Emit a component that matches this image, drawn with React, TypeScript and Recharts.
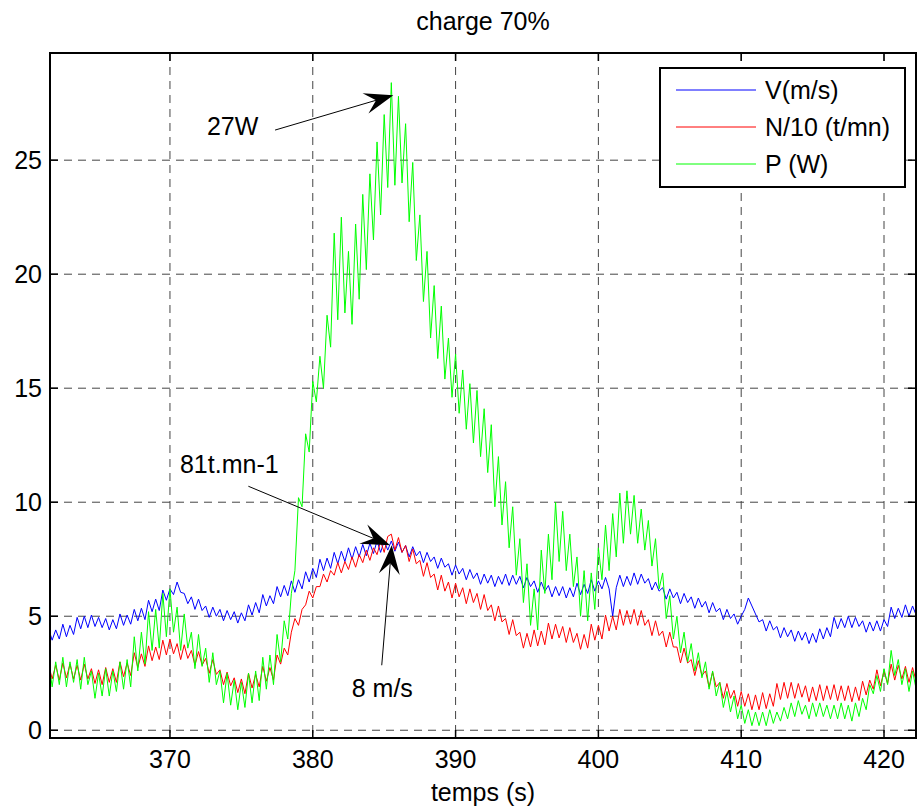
import {
  LineChart,
  Line,
  XAxis,
  YAxis,
  CartesianGrid,
  Legend,
  ReferenceLine,
  ReferenceDot,
} from "recharts";

// samples every 0.25 s, starting at 361.5 s
const T_START = 361.5;
const T_STEP = 0.25;

// V (m/s) — one row per second
const V_MS = [
  4.45, 3.95, 4.4, 4.0,
  4.65, 4.1, 4.6, 4.2,
  4.95, 4.45, 5.0, 4.5,
  5.05, 4.55, 4.95, 4.5,
  4.9, 4.4, 4.85, 4.45,
  5.1, 4.6, 5.05, 4.65,
  5.3, 4.8, 5.35, 4.85,
  5.7, 5.2, 5.75, 5.25,
  6.15, 5.7, 6.2, 5.95,
  6.5, 6.05, 6.0, 5.55,
  5.85, 5.3, 5.75, 5.25,
  5.45, 4.95, 5.4, 5.0,
  5.3, 4.8, 5.25, 4.85,
  5.2, 4.7, 5.15, 4.8,
  5.5, 5.05, 5.6, 5.15,
  5.95, 5.45, 5.9, 5.55,
  6.3, 5.85, 6.35, 5.9,
  6.55, 6.05, 6.6, 6.2,
  6.95, 6.5, 7.1, 6.7,
  7.5, 7.0, 7.55, 7.1,
  7.8, 7.3, 7.85, 7.4,
  8.0, 7.5, 8.05, 7.6,
  8.15, 7.65, 8.2, 7.75,
  8.3, 7.8, 8.3, 7.9,
  8.3, 7.85, 8.25, 7.8,
  8.1, 7.6, 8.05, 7.65,
  7.85, 7.35, 7.8, 7.4,
  7.6, 7.1, 7.55, 7.15,
  7.3, 6.8, 7.25, 6.85,
  7.1, 6.6, 7.05, 6.65,
  6.9, 6.4, 6.85, 6.45,
  6.8, 6.3, 6.75, 6.4,
  6.85, 6.35, 6.8, 6.4,
  6.75, 6.25, 6.7, 6.3,
  6.55, 6.05, 6.5, 6.1,
  6.35, 5.85, 6.3, 5.9,
  6.3, 5.8, 6.25, 5.85,
  6.45, 5.95, 6.4, 6.0,
  6.6, 6.1, 6.55, 6.2,
  6.7, 6.2, 5.0, 6.25,
  6.8, 6.3, 6.75, 6.35,
  6.9, 6.4, 6.85, 6.45,
  6.65, 6.15, 6.5, 6.1,
  6.25, 5.75, 6.2, 5.8,
  6.05, 5.55, 6.0, 5.6,
  5.85, 5.35, 5.8, 5.4,
  5.65, 5.15, 5.6, 5.2,
  5.35, 4.85, 5.3, 4.9,
  5.1, 4.65, 5.0, 5.3,
  5.8, 5.45, 5.1, 4.75,
  4.85, 4.35, 4.8, 4.4,
  4.55, 4.05, 4.5, 4.1,
  4.4, 3.9, 4.35, 3.95,
  4.3, 3.8, 4.25, 3.85,
  4.45, 4.0, 4.5, 4.1,
  4.95, 4.45, 4.9, 4.5,
  5.0, 4.5, 4.95, 4.55,
  4.8, 4.3, 4.75, 4.35,
  4.8, 4.35, 4.85, 4.55,
  5.4, 4.9, 5.35, 4.95,
  5.5, 5.0, 5.45, 5.05,
];

// N/10 (t/mn)
const N_DIV10 = [
  2.9, 2.25, 2.85, 2.2,
  2.95, 2.3, 2.9, 2.25,
  2.85, 2.2, 2.9, 2.25,
  2.7, 2.05, 2.65, 2.0,
  2.75, 2.1, 2.7, 2.1,
  3.0, 2.35, 2.95, 2.4,
  3.4, 2.75, 3.35, 2.8,
  3.7, 3.05, 3.65, 3.1,
  3.95, 3.3, 4.0, 3.35,
  3.8, 3.1, 3.75, 3.15,
  3.5, 2.85, 3.45, 2.85,
  3.15, 2.5, 3.1, 2.45,
  2.65, 2.0, 2.55, 1.95,
  2.3, 1.65, 2.25, 1.6,
  2.5, 1.85, 2.45, 1.9,
  2.8, 2.15, 2.75, 2.2,
  3.3, 2.9, 3.6, 3.3,
  4.3, 4.9, 4.6, 5.3,
  5.5, 6.1, 5.8, 6.3,
  6.3, 6.85, 6.5, 7.0,
  6.8, 7.35, 6.9, 7.4,
  7.05, 7.6, 7.15, 7.7,
  7.35, 7.9, 7.45, 8.0,
  7.7, 8.3, 7.8, 8.5,
  8.6, 7.9, 8.45, 7.8,
  8.1, 7.4, 7.95, 7.3,
  7.45, 6.75, 7.35, 6.7,
  6.85, 6.15, 6.8, 6.1,
  6.5, 5.8, 6.45, 5.85,
  6.25, 5.55, 6.2, 5.6,
  6.0, 5.3, 5.95, 5.25,
  5.5, 4.8, 5.45, 4.75,
  4.9, 4.2, 4.85, 4.15,
  4.3, 3.6, 4.25, 3.65,
  4.4, 3.7, 4.35, 3.75,
  4.7, 4.0, 4.65, 4.05,
  4.55, 3.85, 4.5, 3.85,
  4.25, 3.55, 4.2, 3.6,
  4.65, 3.95, 4.6, 4.0,
  5.05, 4.35, 5.0, 4.4,
  5.3, 4.6, 5.25, 4.65,
  5.3, 4.6, 5.25, 4.6,
  4.85, 4.15, 4.8, 4.15,
  4.35, 3.65, 4.3, 3.65,
  3.65, 2.95, 3.6, 2.95,
  3.1, 2.4, 3.05, 2.4,
  2.6, 1.9, 2.55, 1.9,
  2.1, 1.4, 2.05, 1.4,
  1.75, 1.05, 1.7, 1.05,
  1.6, 0.9, 1.55, 0.9,
  1.65, 0.95, 1.6, 1.05,
  2.05, 1.35, 2.1, 1.4,
  2.1, 1.4, 2.05, 1.45,
  1.95, 1.25, 1.9, 1.3,
  2.0, 1.3, 1.95, 1.35,
  2.0, 1.3, 1.95, 1.3,
  1.95, 1.25, 1.9, 1.3,
  2.15, 1.55, 2.2, 1.8,
  2.65, 1.95, 2.6, 2.05,
  2.9, 2.2, 2.85, 2.25,
  2.8, 2.1, 2.75, 2.15,
];

// P (W)
const P_W = [
  3.1, 1.9, 3.0, 2.0,
  3.2, 1.9, 3.0, 2.1,
  3.1, 1.8, 3.2, 2.0,
  2.6, 1.4, 2.5, 1.5,
  2.7, 1.5, 2.6, 1.7,
  3.0, 1.8, 3.1, 1.9,
  4.1, 2.6, 4.3, 2.9,
  5.2, 3.5, 5.3, 3.6,
  6.0, 4.1, 6.2, 4.3,
  5.4, 3.5, 5.1, 3.6,
  4.3, 2.7, 4.2, 2.8,
  3.6, 2.1, 3.4, 2.0,
  2.6, 1.2, 2.5, 1.1,
  2.2, 0.9, 2.1, 1.0,
  2.5, 1.2, 2.6, 1.3,
  3.2, 1.8, 3.3, 2.0,
  4.2, 3.0, 4.8, 4.0,
  6.0, 7.0, 10.2, 9.8,
  13.0, 12.2, 15.3, 14.4,
  16.4, 15.0, 18.2, 16.8,
  21.8, 18.0, 22.5, 18.3,
  21.0, 17.8, 22.2, 18.9,
  23.5, 20.2, 24.4, 21.5,
  25.8, 22.6, 27.0, 23.8,
  28.4, 23.9, 27.8, 24.0,
  26.6, 22.3, 24.9, 20.6,
  22.6, 18.8, 21.0, 17.2,
  19.5, 16.3, 18.6, 15.4,
  17.2, 14.6, 16.5, 13.9,
  15.8, 13.2, 15.2, 12.6,
  14.9, 12.0, 14.1, 11.3,
  13.4, 9.8, 12.0, 9.0,
  10.9, 8.0, 9.8, 6.8,
  8.4, 5.6, 7.3, 4.6,
  6.2, 4.4, 7.9, 6.0,
  8.6, 6.6, 10.0, 7.4,
  9.6, 7.0, 8.6, 6.3,
  7.6, 5.0, 7.0, 4.8,
  6.9, 5.3, 8.0, 6.6,
  9.0, 7.0, 9.5, 7.6,
  10.4, 8.2, 10.5, 8.6,
  10.3, 8.2, 9.7, 7.9,
  9.2, 7.2, 8.4, 6.2,
  6.9, 4.9, 5.9, 4.0,
  5.0, 3.4, 4.3, 3.0,
  3.8, 2.6, 3.4, 2.3,
  3.0, 1.8, 2.6, 1.5,
  2.1, 1.0, 1.7, 0.8,
  1.5, 0.5, 1.1, 0.3,
  0.9, 0.2, 0.8, 0.2,
  0.8, 0.2, 0.9, 0.3,
  0.8, 0.4, 1.0, 0.5,
  1.2, 0.6, 1.3, 0.7,
  1.1, 0.5, 1.2, 0.6,
  1.2, 0.6, 1.1, 0.5,
  1.1, 0.5, 1.2, 0.5,
  1.1, 0.4, 1.2, 0.6,
  1.4, 0.9, 2.0, 1.6,
  2.4, 1.7, 2.7, 2.0,
  3.5, 2.4, 3.1, 2.0,
  2.7, 1.7, 2.6, 1.8,
];

const SERIES_NAMES = ["V(m/s)", "N/10 (t/mn)", "P (W)"];
const X_TICKS = [370, 380, 390, 400, 410, 420];
const Y_TICKS = [0, 5, 10, 15, 20, 25];
const X_DOMAIN = [361.6, 422.24];
const Y_DOMAIN = [-0.34, 29.7];

// arrows: [tail, head] in data units
const ARROWS = [
  [{ x: 377.36, y: 26.32 }, { x: 385.64, y: 27.85 }],
  [{ x: 375.49, y: 10.7 }, { x: 385.41, y: 8.11 }],
  [{ x: 384.83, y: 2.85 }, { x: 385.53, y: 8.11 }],
];
const NOTES = [
  { x: 372.59, y: 26.1, text: "27W" },
  { x: 370.7, y: 11.27, text: "81t.mn-1" },
  { x: 382.73, y: 1.45, text: "8 m/s" },
];

const FONT = "'Liberation Sans', Arial, Helvetica, sans-serif";
const TICK_LEN = 8;

// plot frame (chart margins)
const W = 917;
const H = 811;
const PLOT_LEFT = 50;
const PLOT_TOP = 53;
const PLOT_RIGHT = 916;
const PLOT_BOTTOM = 738;

const rows = V_MS.map((v, i) => ({
  t: T_START + i * T_STEP,
  v,
  n: N_DIV10[i],
  p: P_W[i],
}));

function BottomTick({ x, y, payload }: any) {
  return (
    <g>
      <line x1={x} x2={x} y1={y} y2={y - TICK_LEN} stroke="#000" strokeWidth={1.5} />
      <line x1={x} x2={x} y1={PLOT_TOP} y2={PLOT_TOP + TICK_LEN} stroke="#000" strokeWidth={1.5} />
      <text x={x} y={y + 30} textAnchor="middle" fontSize={25} fontFamily={FONT} fill="#000">
        {payload.value}
      </text>
    </g>
  );
}

function LeftTick({ x, y, payload }: any) {
  return (
    <g>
      <line x1={x} x2={x + TICK_LEN} y1={y} y2={y} stroke="#000" strokeWidth={1.5} />
      <line x1={PLOT_RIGHT} x2={PLOT_RIGHT - TICK_LEN} y1={y} y2={y} stroke="#000" strokeWidth={1.5} />
      <text x={x - 8} y={y + 9} textAnchor="end" fontSize={25} fontFamily={FONT} fill="#000">
        {payload.value}
      </text>
    </g>
  );
}

function Arrow({ x1, y1, x2, y2 }: any) {
  const len = Math.hypot(x2 - x1, y2 - y1);
  const ux = (x2 - x1) / len;
  const uy = (y2 - y1) / len;
  const nx = -uy;
  const ny = ux;
  const headLen = 29;
  const halfW = 10.5;
  const notch = 18;
  const bx = x2 - ux * headLen;
  const by = y2 - uy * headLen;
  const pts = [
    [x2, y2],
    [bx + nx * halfW, by + ny * halfW],
    [x2 - ux * notch, y2 - uy * notch],
    [bx - nx * halfW, by - ny * halfW],
  ]
    .map((p) => p.join(","))
    .join(" ");
  return (
    <g>
      <line x1={x1} y1={y1} x2={x2 - ux * notch} y2={y2 - uy * notch} stroke="#000" strokeWidth={1} />
      <polygon points={pts} fill="#000" />
    </g>
  );
}

function LegendBox({ payload }: any) {
  const items = [...(payload || [])].sort(
    (a: any, b: any) => SERIES_NAMES.indexOf(a.value) - SERIES_NAMES.indexOf(b.value)
  );
  return (
    <svg width={247} height={121} style={{ display: "block" }}>
      <rect x={1} y={1} width={245} height={119} fill="#fff" stroke="#000" strokeWidth={2} />
      {items.map((e: any, i: number) => {
        const cy = 23 + i * 37;
        return (
          <g key={e.value}>
            <line x1={17} x2={97} y1={cy} y2={cy} stroke={e.color} strokeWidth={1} />
            <text x={106} y={cy + 9} fontSize={25} fontFamily={FONT} fill="#000">
              {e.value}
            </text>
          </g>
        );
      })}
    </svg>
  );
}

export default function App() {
  return (
    <div style={{ position: "absolute", left: 0, top: 0, width: W, height: H, background: "#fff" }}>
      <div
        style={{
          position: "absolute",
          left: PLOT_LEFT,
          top: 9,
          width: PLOT_RIGHT - PLOT_LEFT,
          textAlign: "center",
          fontFamily: FONT,
          fontSize: 25,
          lineHeight: "25px",
          color: "#000",
        }}
      >
        charge 70%
      </div>
      <LineChart
        width={W}
        height={H}
        data={rows}
        margin={{ top: PLOT_TOP, right: W - PLOT_RIGHT, bottom: 0, left: 0 }}
      >
        <CartesianGrid stroke="#444" strokeDasharray="8 6" strokeWidth={1} />
        <XAxis
          dataKey="t"
          type="number"
          domain={X_DOMAIN}
          ticks={X_TICKS}
          interval={0}
          allowDataOverflow
          height={H - PLOT_BOTTOM}
          tickSize={0}
          tickMargin={0}
          tick={<BottomTick />}
          axisLine={{ stroke: "#000", strokeWidth: 1.5 }}
          label={{
            value: "temps (s)",
            position: "insideBottom",
            offset: 10,
            fontSize: 25,
            fontFamily: FONT,
            fill: "#000",
          }}
        />
        <YAxis
          type="number"
          domain={Y_DOMAIN}
          ticks={Y_TICKS}
          interval={0}
          allowDataOverflow
          width={PLOT_LEFT}
          tickSize={0}
          tickMargin={0}
          tick={<LeftTick />}
          axisLine={{ stroke: "#000", strokeWidth: 1.5 }}
        />
        <Line
          dataKey="v"
          name={SERIES_NAMES[0]}
          stroke="#0000ff"
          strokeWidth={1}
          dot={false}
          type="linear"
          isAnimationActive={false}
        />
        <Line
          dataKey="n"
          name={SERIES_NAMES[1]}
          stroke="#ff0000"
          strokeWidth={1}
          dot={false}
          type="linear"
          isAnimationActive={false}
        />
        <Line
          dataKey="p"
          name={SERIES_NAMES[2]}
          stroke="#00ff00"
          strokeWidth={1}
          dot={false}
          type="linear"
          isAnimationActive={false}
        />
        {ARROWS.map((seg, i) => (
          <ReferenceLine key={"a" + i} segment={seg} ifOverflow="visible" shape={<Arrow />} />
        ))}
        {NOTES.map((n) => (
          <ReferenceDot
            key={n.text}
            x={n.x}
            y={n.y}
            r={0}
            ifOverflow="visible"
            shape={(p: any) => (
              <text x={p.cx} y={p.cy} fontSize={25} fontFamily={FONT} fill="#000">
                {n.text}
              </text>
            )}
          />
        ))}
        <Legend
          layout="vertical"
          align="center"
          verticalAlign="middle"
          width={247}
          height={121}
          wrapperStyle={{ left: 659, top: 67, width: 247, height: 121 }}
          content={<LegendBox />}
        />
      </LineChart>
      {/* axes box, drawn over the plot edges */}
      <div
        style={{
          position: "absolute",
          zIndex: 5,
          left: PLOT_LEFT - 1,
          top: PLOT_TOP - 1,
          width: PLOT_RIGHT - PLOT_LEFT + 2,
          height: PLOT_BOTTOM - PLOT_TOP + 2,
          border: "2px solid #000",
          boxSizing: "border-box",
          pointerEvents: "none",
        }}
      />
    </div>
  );
}
